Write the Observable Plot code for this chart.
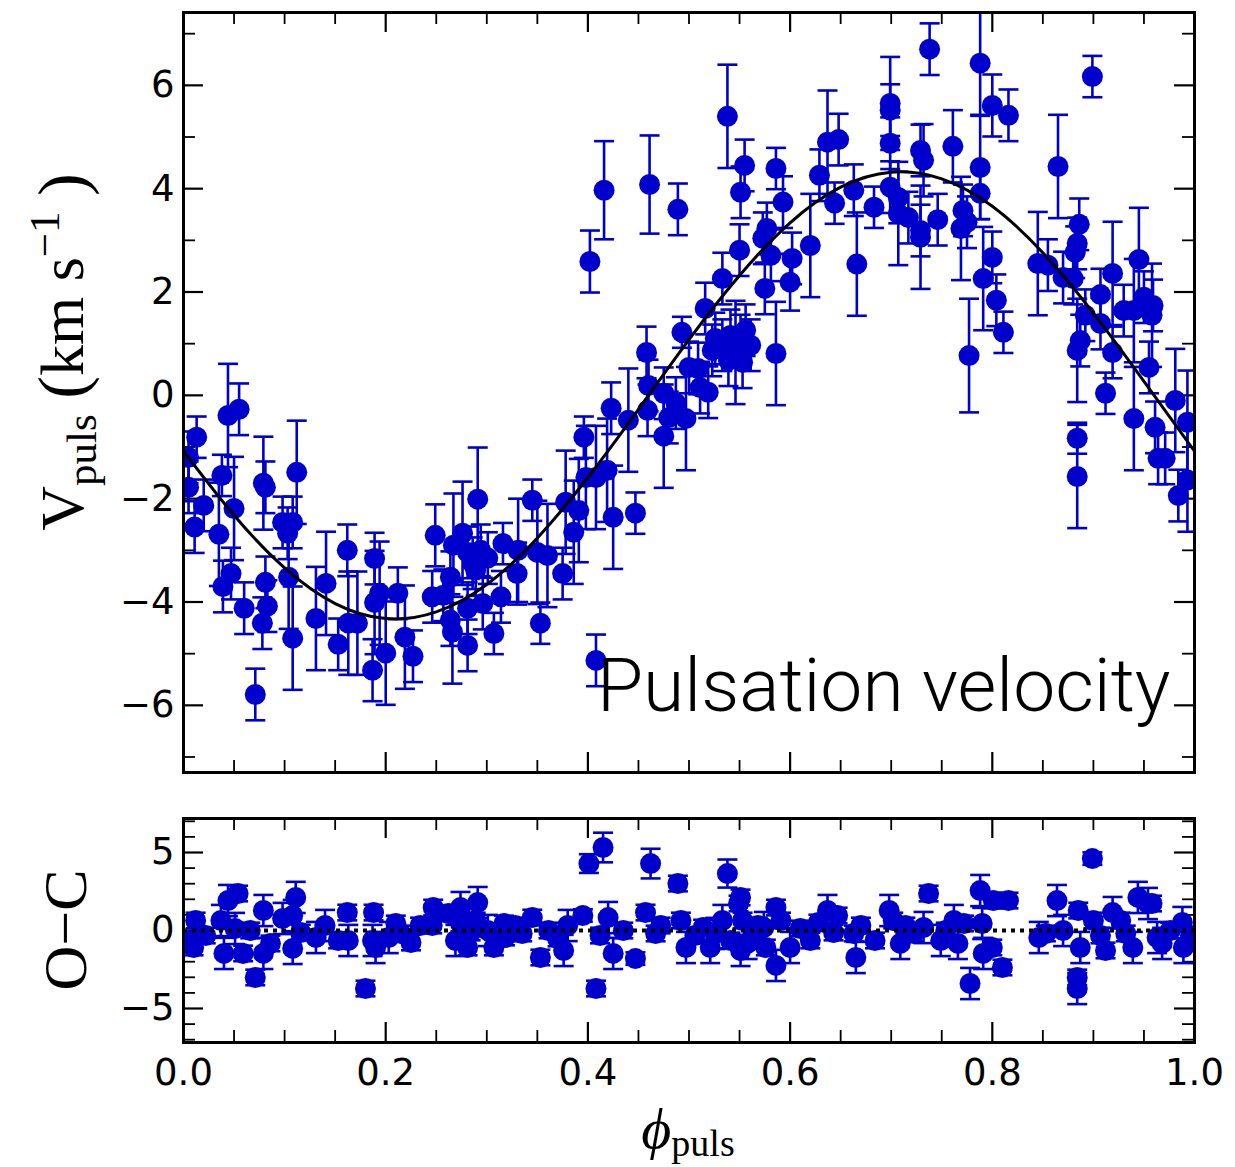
<!DOCTYPE html>
<html><head><meta charset="utf-8">
<script src="https://cdn.jsdelivr.net/npm/d3@7"></script>
<script src="https://cdn.jsdelivr.net/npm/@observablehq/plot@0.6"></script>
<style>
body{margin:0;background:#fff;}
#fig{position:relative;width:1235px;height:1167px;background:#fff;}
#top,#bot{position:absolute;left:0;}
#top{top:0px;}
#bot{top:790px;}
</style></head><body>
<div id="fig"><div id="top"></div><div id="bot"></div></div>
<script>
// ---- Top panel: pulsation velocity (phase, value, error) ----
const phase = [0.005,0.005,0.013,0.011,0.020,0.035,0.038,0.039,0.044,0.047,0.050,0.055,0.060,0.071,0.078,0.079,0.081,0.081,0.083,0.098,0.103,0.108,0.104,0.108,0.112,
0.131,0.141,0.153,0.162,0.163,0.172,0.189,0.189,0.194,0.187,0.200,0.212,0.219,0.227,
0.249,0.246,0.257,0.264,0.264,0.266,0.267,0.276,0.281,0.286,0.289,0.281,0.281,0.291,0.294,0.301,0.296,0.307,0.314,0.316,0.330,0.331,0.345,0.350,0.360,0.353,0.375,0.378,0.386,0.391,
0.396,0.398,0.408,0.419,0.402,0.408,0.416,0.423,0.425,0.440,0.447,0.458,0.460,0.459,0.461,0.475,0.480,0.475,0.487,0.489,0.493,0.497,0.500,0.509,0.511,0.519,0.516,0.523,0.533,0.538,
0.526,0.533,0.541,0.546,0.551,0.556,0.561,0.539,0.553,0.551,0.550,0.555,0.575,0.573,0.577,0.581,0.586,0.586,0.593,0.600,0.602,0.620,0.629,0.637,0.648,0.644,0.663,0.666,0.683,
0.699,0.699,0.699,0.699,0.707,0.707,0.717,0.729,0.732,0.738,0.729,0.729,0.746,0.761,0.771,0.769,0.775,0.777,0.788,0.788,0.788,0.791,0.800,0.800,0.804,0.811,0.816,
0.845,0.855,0.865,0.870,0.880,0.882,0.884,0.886,0.884,0.887,0.884,0.884,0.892,0.899,0.907,0.907,0.912,0.919,0.919,0.930,0.940,0.940,0.945,0.950,0.959,0.958,0.955,0.961,0.964,0.971,0.981,0.984,0.993,0.993];
const vpuls = [-1.20,-1.78,-0.81,-2.55,-2.13,-2.69,-1.55,-3.70,-0.39,-3.45,-2.19,-0.27,-4.12,-5.79,-4.41,-1.70,-1.78,-3.62,-4.08,-2.46,-2.67,-2.46,-3.52,-4.70,-1.49,
-4.32,-3.64,-4.82,-3.00,-4.41,-4.41,-3.16,-4.01,-3.83,-5.32,-4.99,-3.83,-4.68,-5.05,
-2.71,-3.90,-3.87,-3.52,-4.35,-4.58,-2.90,-2.67,-3.04,-3.25,-3.38,-4.12,-4.84,-2.01,-3.00,-3.15,-4.03,-4.61,-3.90,-2.87,-3.45,-3.00,-2.03,-3.04,-3.10,-4.41,-3.45,-2.07,-2.65,-2.23,
-0.81,-1.59,-1.59,-1.45,2.59,-5.13,3.97,-0.25,-2.36,-0.48,-2.28,0.83,0.19,-0.29,4.08,0.04,-0.43,-0.79,-0.15,3.60,1.22,-0.45,0.54,0.52,0.15,0.06,1.68,0.87,2.26,5.40,
1.10,0.97,1.16,0.83,1.06,1.26,0.97,0.68,0.64,3.93,2.81,4.45,2.07,3.04,3.23,2.71,4.39,0.81,3.74,2.19,2.65,2.90,4.26,4.90,4.95,3.72,3.97,2.54,3.64,
5.65,5.52,4.88,4.03,3.83,3.52,3.44,4.74,4.55,6.70,3.19,3.06,3.40,4.82,3.58,3.23,3.35,0.77,6.43,4.41,3.91,2.26,5.61,2.67,1.84,1.22,5.42,
2.55,2.52,4.43,2.28,2.26,2.77,2.94,3.31,0.87,1.06,-0.83,-1.57,1.55,6.17,1.95,1.39,0.04,2.36,0.83,1.64,1.64,-0.45,2.63,1.90,1.74,1.55,0.54,-0.62,-1.22,-1.22,-0.10,-1.94,-0.52,-1.64];
const verr = [0.5,0.5,0.4,0.5,0.5,1.0,0.4,0.5,1.0,0.5,1.0,0.5,0.5,0.5,0.5,0.9,0.5,0.5,0.5,0.5,0.5,0.5,1.0,1.0,1.0,
1.0,1.0,0.5,0.5,1.0,1.0,0.5,1.0,1.0,0.6,1.0,0.5,1.0,0.5,
0.6,0.5,0.5,0.5,0.5,1.0,1.0,1.0,0.5,0.5,0.5,0.5,0.5,1.0,0.5,0.5,0.5,0.4,0.5,0.4,0.6,1.0,0.4,1.0,1.0,0.4,0.5,1.0,1.0,1.0,
0.4,1.0,1.0,1.0,0.6,0.5,0.95,0.5,1.0,1.0,0.4,0.5,0.5,0.5,0.95,0.5,0.5,1.0,0.5,0.5,0.3,1.0,0.5,0.5,0.5,0.5,0.5,0.5,0.5,1.0,
0.5,0.5,0.5,1.0,0.5,0.5,0.5,0.5,0.5,0.5,0.5,0.5,0.5,0.5,0.5,0.5,0.4,1.0,0.5,0.55,0.5,1.0,0.5,1.0,0.5,0.4,0.5,1.0,0.4,
0.9,0.5,0.5,0.5,0.5,1.0,0.5,0.5,0.7,0.5,0.5,1.0,0.5,0.7,0.5,1.0,0.5,1.1,1.0,1.0,0.5,1.0,0.6,0.5,0.5,0.4,0.5,
1.0,0.5,1.0,0.5,0.5,0.5,0.5,0.5,1.0,0.5,0.3,1.0,0.5,0.4,0.5,0.5,0.4,1.0,0.5,0.5,1.0,1.0,1.0,0.5,0.5,1.0,0.5,0.5,0.5,0.5,1.0,0.5,1.0,1.0];

// fitted pulsation curve, read at phase steps of 0.05
const fitPhase = [0,0.05,0.1,0.15,0.2,0.25,0.3,0.35,0.4,0.45,0.5,0.55,0.6,0.65,0.7,0.75,0.8,0.85,0.9,0.95,1.0];
const fitV = [-1.08,-2.32,-3.34,-4.03,-4.32,-4.19,-3.66,-2.76,-1.59,-0.27,1.08,2.32,3.34,4.03,4.32,4.19,3.66,2.76,1.59,0.27,-1.08];

// ---- Bottom panel: O-C residuals ----
const ocPhase = [0.012,0.010,0.004,0.037,0.040,0.044,0.054,0.051,0.059,0.071,0.079,0.086,0.079,0.098,0.111,0.108,0.108,0.131,0.140,0.162,0.153,0.163,0.180,0.188,0.190,0.187,0.210,0.203,0.225,
0.247,0.246,0.262,0.274,0.291,0.269,0.281,0.289,0.301,0.307,0.317,0.335,0.345,0.353,0.376,0.380,0.395,0.401,0.415,0.408,0.420,0.425,0.435,0.447,0.457,0.462,0.467,0.489,0.492,0.497,
0.514,0.521,0.533,0.538,0.551,0.549,0.553,0.551,0.558,0.574,0.586,0.591,0.586,0.600,0.620,0.628,0.637,0.647,0.643,0.663,0.665,0.684,0.698,0.702,0.709,0.722,0.732,0.737,0.749,
0.762,0.766,0.772,0.778,0.788,0.790,0.791,0.800,0.801,0.810,0.816,0.846,0.864,0.870,0.885,0.887,0.884,0.884,0.899,0.900,0.912,0.919,0.927,0.939,0.944,0.954,0.958,0.963,0.968,0.988,0.989,
0.274,0.284,0.318,0.328,0.361,0.370,0.412,0.472,0.506,0.526,0.541,0.563,0.568,0.576,0.610,0.670,0.714,0.754,0.853,0.907,0.932,0.976,0.996,0.022,0.066,0.116,0.215,0.234];
const oc = [0.64,-1.09,-0.64,0.64,-1.47,1.92,2.37,0.13,-1.47,-3.01,1.28,-0.83,-1.47,0.77,2.12,0.96,-1.15,-0.45,0.32,1.15,-0.64,-0.64,-3.72,1.15,-1.09,-0.64,0.45,-0.45,-0.77,
1.47,0.32,1.09,1.47,1.79,-0.64,-1.09,0.64,0.00,-1.09,0.45,-0.19,0.83,-1.73,-1.28,0.32,0.96,4.29,5.32,-3.72,0.83,-1.47,0.00,-1.80,1.15,4.29,-0.19,3.01,0.64,-1.09,
0.19,-1.09,0.64,3.65,2.12,1.73,0.64,-1.28,-0.83,0.19,1.47,0.64,-2.24,-1.09,-0.64,0.51,1.28,0.96,-0.13,-0.19,-1.73,-0.64,1.28,0.64,-0.83,-0.19,0.19,2.37,-0.64,
0.64,-0.83,0.45,-3.40,2.56,0.45,-1.47,-1.09,1.92,-2.37,1.92,-0.45,1.92,0.00,1.28,-1.09,-3.01,-3.72,4.61,0.64,-1.28,1.15,0.64,-1.09,2.12,1.73,1.73,-0.45,-0.83,0.51,-1.09,
0.45,-0.13,-0.45,0.32,0.00,-0.51,-0.32,0.32,-0.32,-0.19,-0.64,-0.32,0.32,-1.09,0.13,0.32,0.32,0.00,-0.19,-0.32,-0.19,0.00,-0.32,-0.32,0.00,-0.13,-0.19,0.32];
const ocErr = [0.5,0.5,0.5,1.0,1.0,1.0,0.5,1.0,0.5,0.5,1.0,0.5,1.0,1.0,1.0,1.0,1.0,1.0,1.0,0.5,0.5,1.0,0.5,0.5,1.0,1.0,0.5,1.0,0.5,
0.5,0.5,0.5,1.0,1.0,1.0,0.5,0.5,1.0,0.5,0.5,0.5,0.5,0.5,1.0,1.0,0.4,0.6,0.95,0.5,1.0,1.0,0.5,0.4,0.5,0.95,0.5,0.5,0.5,1.0,
0.5,1.0,1.0,0.9,0.5,0.5,0.5,1.0,1.0,1.0,0.5,0.5,1.0,1.0,0.5,0.5,1.0,0.5,0.5,0.5,1.0,0.5,1.0,0.5,1.0,0.5,1.0,0.5,1.0,
1.0,1.0,0.5,1.0,1.0,1.0,1.0,0.5,0.5,0.5,0.5,1.0,1.0,1.0,0.5,1.0,0.5,1.0,0.4,0.5,0.5,1.0,0.5,1.0,1.0,1.0,0.5,1.0,1.0,1.0,1.0,
0.5,0.5,0.5,0.5,0.5,0.5,0.5,0.5,0.5,1.0,0.5,0.5,0.5,0.5,0.5,0.5,0.5,0.5,0.5,0.5,0.5,0.5,0.5,0.5,0.5,0.5,0.5,0.5];

// ---- Tick values ----
const xMajor = [0,0.2,0.4,0.6,0.8,1.0];
const xMinor = [0.05,0.1,0.15,0.25,0.3,0.35,0.45,0.5,0.55,0.65,0.7,0.75,0.85,0.9,0.95];
const yMajorTop = [-6,-4,-2,0,2,4,6];
const yMinorTop = [-7,-5,-3,-1,1,3,5,7];
const yMajorBot = [-5,0,5];
const yMinorBot = [-7,-6,-4,-3,-2,-1,1,2,3,4,6,7];
const panelLabel = "Pulsation velocity";

const blue = "#0000cc";
const minus = d => d < 0 ? "\u2212" + Math.abs(d) : String(d);
const capSym = {draw(ctx){ ctx.moveTo(-10,0); ctx.lineTo(10,0); }};
const tickFont = "DejaVu Sans";

function tickMarks(H, W, xMaj, xMin, yMaj, yMin){
  const M = 20, m = 12;
  return [
    Plot.tickX(xMaj, {x: d => d, insetTop: H - M, strokeWidth: 2.2}),
    Plot.tickX(xMaj, {x: d => d, insetBottom: H - M, strokeWidth: 2.2}),
    Plot.tickX(xMin, {x: d => d, insetTop: H - m, strokeWidth: 1.8}),
    Plot.tickX(xMin, {x: d => d, insetBottom: H - m, strokeWidth: 1.8}),
    Plot.tickY(yMaj, {y: d => d, insetRight: W - M, strokeWidth: 2.2}),
    Plot.tickY(yMaj, {y: d => d, insetLeft: W - M, strokeWidth: 2.2}),
    Plot.tickY(yMin, {y: d => d, insetRight: W - m, strokeWidth: 1.8}),
    Plot.tickY(yMin, {y: d => d, insetLeft: W - m, strokeWidth: 1.8})
  ];
}

function errorMarks(data){
  return [
    Plot.ruleX(data, {x: "p", y1: d => d.v - d.e, y2: d => d.v + d.e, stroke: blue, strokeWidth: 2.6, clip: "frame"}),
    Plot.dot(data, {x: "p", y: d => d.v + d.e, symbol: capSym, stroke: blue, fill: "none", strokeWidth: 2.6, clip: "frame"}),
    Plot.dot(data, {x: "p", y: d => d.v - d.e, symbol: capSym, stroke: blue, fill: "none", strokeWidth: 2.6, clip: "frame"}),
    Plot.dot(data, {x: "p", y: "v", r: 10.5, fill: blue, clip: "frame"})
  ];
}

const topData = phase.map((p, i) => ({p, v: vpuls[i], e: verr[i]}));
const fitData = fitPhase.map((p, i) => ({p, v: fitV[i]}));
const botData = ocPhase.map((p, i) => ({p, v: oc[i], e: ocErr[i]}));

const WIDTH = 1235, mL = 183, mR = 41;
const PW = WIDTH - mL - mR;

// Top panel
const topH = 800, topMT = 12, topMB = 28;
const topPlot = Plot.plot({
  width: WIDTH, height: topH,
  marginLeft: mL, marginRight: mR, marginTop: topMT, marginBottom: topMB,
  x: {domain: [0, 1], axis: null},
  y: {domain: [-7.3, 7.41]},
  style: {fontFamily: tickFont, fontSize: "37px", color: "black", background: "white", overflow: "visible"},
  marks: [
    ...tickMarks(topH - topMT - topMB, PW, xMajor, xMinor, yMajorTop, yMinorTop),
    Plot.axisY(yMajorTop, {tickSize: 0, tickPadding: 9, tickFormat: minus, label: null, fontSize: 37}),
    ...errorMarks(topData),
    Plot.line(fitData, {x: "p", y: "v", curve: "natural", stroke: "black", strokeWidth: 3, clip: "frame"}),
    Plot.text([panelLabel], {text: d => d, frameAnchor: "bottom-right", textAnchor: "end", lineAnchor: "bottom",
      dx: -24, dy: -62, fontSize: 75, fontFamily: "Roboto", fontWeight: 300, fill: "black"}),
    Plot.frame({stroke: "black", strokeWidth: 3})
  ]
});
document.getElementById("top").appendChild(topPlot);

// Bottom panel
const botH = 377, botMT = 28, botMB = 125;
const botPlot = Plot.plot({
  width: WIDTH, height: botH,
  marginLeft: mL, marginRight: mR, marginTop: botMT, marginBottom: botMB,
  x: {domain: [0, 1]},
  y: {domain: [-7.18, 7.18]},
  style: {fontFamily: tickFont, fontSize: "37px", color: "black", background: "white", overflow: "visible"},
  marks: [
    ...tickMarks(botH - botMT - botMB, PW, xMajor, xMinor, yMajorBot, yMinorBot),
    Plot.axisY(yMajorBot, {tickSize: 0, tickPadding: 9, tickFormat: minus, label: null, fontSize: 37}),
    Plot.axisX(xMajor, {tickSize: 0, tickPadding: 16, tickFormat: d3.format(".1f"), label: null, fontSize: 37}),
    ...errorMarks(botData),
    Plot.ruleY([0], {stroke: "black", strokeWidth: 4, strokeDasharray: "4,5"}),
    Plot.frame({stroke: "black", strokeWidth: 3})
  ]
});
document.getElementById("bot").appendChild(botPlot);

// Axis titles (LaTeX-like)
const serif = "Liberation Serif";
const ty = d3.select(topPlot).append("text")
  .attr("transform", "translate(83,352) rotate(-90)")
  .attr("text-anchor", "middle").attr("font-family", serif).attr("font-size", 62).attr("fill", "black");
ty.append("tspan").text("V");
ty.append("tspan").attr("font-size", 43).attr("dy", 13).text("puls");
ty.append("tspan").attr("dy", -13).text(" ");
ty.append("tspan").attr("font-size", 68).attr("dy", 2).text("(");
ty.append("tspan").attr("dy", -2).text("km s");
ty.append("tspan").attr("font-size", 43).attr("dy", -24).text("\u22121");
ty.append("tspan").attr("dy", 24).text(" ");
ty.append("tspan").attr("font-size", 68).attr("dy", 2).text(")");

d3.select(botPlot).append("text")
  .attr("transform", "translate(86,140) rotate(-90)")
  .attr("text-anchor", "middle").attr("font-family", serif).attr("font-size", 62).attr("fill", "black")
  .text("O\u2212C");

const tx = d3.select(botPlot).append("text")
  .attr("x", 688).attr("y", 358)
  .attr("text-anchor", "middle").attr("font-family", serif).attr("font-size", 58).attr("fill", "black");
tx.append("tspan").attr("font-style", "italic").text("\u03d5");
tx.append("tspan").attr("font-size", 38).attr("dy", 8).text("puls");
</script>
</body></html>
